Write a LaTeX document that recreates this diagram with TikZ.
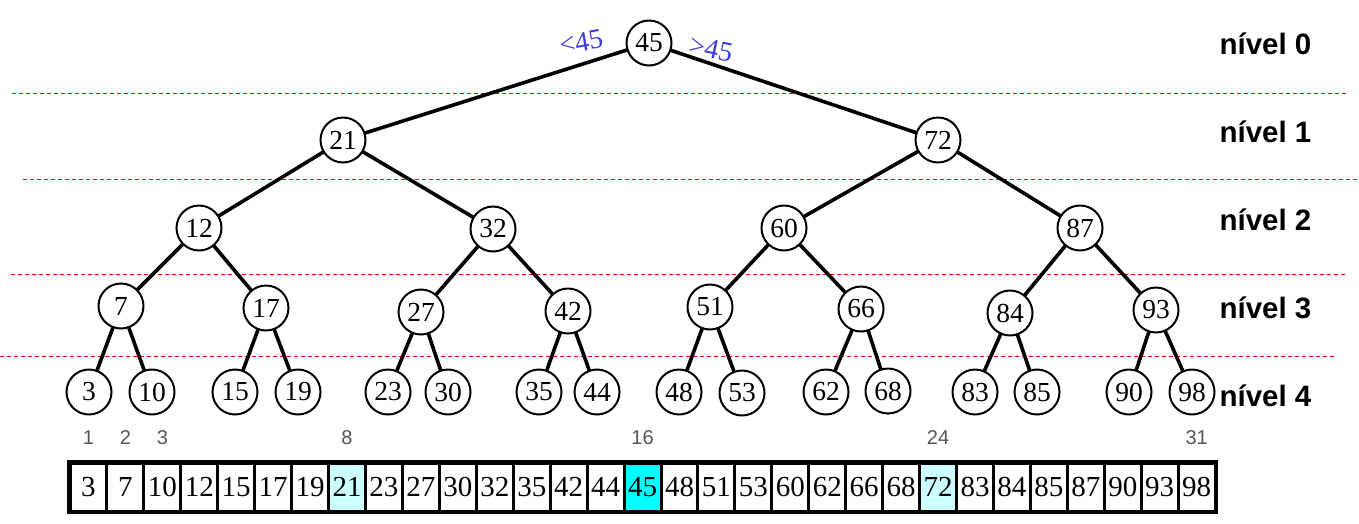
\documentclass[tikz,border=0pt]{standalone}
\usepackage{fontspec}
\newfontfamily\serifnum{Liberation Serif}
\newfontfamily\sanslbl{Liberation Sans}
\definecolor{paleaqua}{RGB}{204,255,255}
\definecolor{aquafull}{RGB}{0,255,255}
\definecolor{handblue}{RGB}{60,60,215}
\definecolor{idxgray}{RGB}{85,85,85}
\begin{document}
\begin{tikzpicture}[x=1pt,y=-1pt,
  treenode/.style={circle, draw, line width=2pt, minimum size=45pt, inner sep=0pt,
    fill=white, font=\serifnum\fontsize{27.5}{28}\selectfont},
  branch/.style={line width=3.6pt, line cap=round},
  levelsep/.style={red, line width=0.9pt, dash pattern=on 4pt off 3pt},
  levellabel/.style={font=\sanslbl\bfseries\fontsize{29.5}{30}\selectfont, anchor=west},
  arraycell/.style={draw, line width=3pt, minimum width=36.94pt, minimum height=48pt,
    inner sep=0pt, font=\serifnum\fontsize{29}{30}\selectfont},
  indexlabel/.style={text=idxgray, font=\sanslbl\fontsize{20}{21}\selectfont},
  rangelabel/.style={text=handblue, inner sep=0pt, font=\serifnum\fontsize{28}{29}\selectfont}
]
\useasboundingbox (0,0) rectangle (1359,523);

% level separators
\draw[levelsep] (12,93) -- (1347,93);
\draw[levelsep] (23,179) -- (1359,179);
\draw[levelsep] (11,274) -- (1347,274);
\draw[levelsep] (0,356) -- (1335,356);

% tree nodes
\node[treenode] (n45) at (649,43) {45};
\node[treenode] (n21) at (343,140) {21};
\node[treenode] (n72) at (938,140) {72};
\node[treenode] (n12) at (199,228) {12};
\node[treenode] (n32) at (493,229) {32};
\node[treenode] (n60) at (784,228) {60};
\node[treenode] (n87) at (1080,228) {87};
\node[treenode] (n7)  at (121,306) {7};
\node[treenode] (n17) at (266,308) {17};
\node[treenode] (n27) at (421,312) {27};
\node[treenode] (n42) at (568,311) {42};
\node[treenode] (n51) at (710,307) {51};
\node[treenode] (n66) at (861,309) {66};
\node[treenode] (n84) at (1010,313) {84};
\node[treenode] (n93) at (1156,310) {93};
\node[treenode] (n3)  at (89,392) {3};
\node[treenode] (n10) at (152,392) {10};
\node[treenode] (n15) at (235,392) {15};
\node[treenode] (n19) at (298,392) {19};
\node[treenode] (n23) at (388,392) {23};
\node[treenode] (n30) at (448,392) {30};
\node[treenode] (n35) at (539,392) {35};
\node[treenode] (n44) at (597,392) {44};
\node[treenode] (n48) at (679,392) {48};
\node[treenode] (n53) at (742,393) {53};
\node[treenode] (n62) at (826,392) {62};
\node[treenode] (n68) at (888,391) {68};
\node[treenode] (n83) at (975,392) {83};
\node[treenode] (n85) at (1037,392) {85};
\node[treenode] (n90) at (1129,392) {90};
\node[treenode] (n98) at (1192,392) {98};

% branches
\foreach \p/\c in {45/21,45/72,21/12,21/32,72/60,72/87,
  12/7,12/17,32/27,32/42,60/51,60/66,87/84,87/93,
  7/3,7/10,17/15,17/19,27/23,27/30,42/35,42/44,
  51/48,51/53,66/62,66/68,84/83,84/85,93/90,93/98}
  \draw[branch] (n\p) -- (n\c);

% range hints at the root
\node[rangelabel, rotate=10] (lt) at (581,42) {<45};
\node[rangelabel, rotate=-12] (gt) at (711,49) {>45};

% level labels
\node[levellabel] (l0) at (1216,44) {nível 0};
\node[levellabel] (l1) at (1216,132) {nível 1};
\node[levellabel] (l2) at (1216,220) {nível 2};
\node[levellabel] (l3) at (1216,308) {nível 3};
\node[levellabel] (l4) at (1216,396) {nível 4};

% sorted array
\foreach \v/\f [count=\i] in {3/white,7/white,10/white,12/white,15/white,17/white,
  19/white,21/paleaqua,23/white,27/white,30/white,32/white,35/white,42/white,
  44/white,45/aquafull,48/white,51/white,53/white,60/white,62/white,66/white,
  68/white,72/paleaqua,83/white,84/white,85/white,87/white,90/white,93/white,98/white}
  \node[arraycell, fill=\f] (c\i) at ({70+(\i-0.5)*36.94},487) {\v};
\draw[line width=3.5pt] (c1.north west) rectangle (c31.south east);

% array positions
\foreach \i in {1,2,3,8,16,24,31}
  \node[indexlabel] (k\i) at (c\i |- 0,438) {\i};
\end{tikzpicture}
\end{document}
